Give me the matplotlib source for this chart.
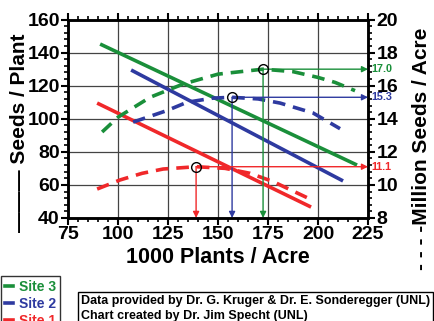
import matplotlib
matplotlib.use("Agg")
import matplotlib.pyplot as plt
from matplotlib.ticker import MultipleLocator
from matplotlib.lines import Line2D

plt.rcParams["font.family"] = ["Liberation Sans", "DejaVu Sans"]
plt.rcParams["font.weight"] = "bold"

# solid lines: seeds / plant (left axis)
sites = ["Site 3", "Site 2", "Site 1"]
colors = ["#1a8f3a", "#2e3aa0", "#f0282a"]
seed_x = [[91, 219.5], [106.5, 212.5], [89.5, 196.5]]
seed_y = [[145.2, 72.0], [129.5, 62.4], [109.5, 46.6]]

# dashed curves: million seeds / acre (right axis)
yield_x = [
    [92, 100, 116, 132.5, 150, 172.5, 187.5, 200, 208.5, 218.5],
    [107.5, 124.5, 134.5, 147.5, 157, 170, 181, 197.5, 211],
    [89.5, 101, 112, 122.5, 139, 153.5, 166, 177.5, 195],
]
yield_y = [
    [13.2, 14.1, 15.3, 16.1, 16.7, 17.0, 16.85, 16.5, 16.2, 15.7],
    [13.8, 14.5, 15.0, 15.25, 15.3, 15.2, 14.95, 14.35, 13.4],
    [9.75, 10.3, 10.7, 10.96, 11.1, 11.0, 10.7, 10.2, 9.2],
]
peak_x = [172.5, 157, 139]
peak_y = [17.0, 15.3, 11.1]
peak_labels = ["17.0", "15.3", "11.1"]

fig = plt.figure(figsize=(4.34, 3.21), dpi=100)
ax = fig.add_axes([0.157, 0.321, 0.691, 0.618])
ax2 = ax.twinx()

for c, xs, ys in zip(colors, seed_x, seed_y):
    ax.plot(xs, ys, color=c, lw=2.6, solid_capstyle="butt", zorder=3)

for c, xs, ys in zip(colors, yield_x, yield_y):
    ax2.plot(xs, ys, color=c, lw=2.6, dashes=(3.5, 2.2), zorder=3)

for c, px, py, lab in zip(colors, peak_x, peak_y, peak_labels):
    ax2.annotate("", xy=(225, py), xytext=(px, py),
                 arrowprops=dict(arrowstyle="-|>", color=c, lw=1.0,
                                 mutation_scale=9, shrinkA=0, shrinkB=0))
    ax2.annotate("", xy=(px, 8), xytext=(px, py),
                 arrowprops=dict(arrowstyle="-|>", color=c, lw=1.0,
                                 mutation_scale=9, shrinkA=0, shrinkB=0))
    ax2.plot(px, py, "o", ms=7, mfc="none", mec="black", mew=1.0, zorder=5)
    ax2.text(226.5, py, lab, color=c, fontsize=7.8, fontweight="bold",
             va="center", ha="left", clip_on=False)

ax.set_xlim(75, 225)
ax.set_ylim(40, 160)
ax2.set_ylim(8, 20)
ax.xaxis.set_major_locator(MultipleLocator(25))
ax.xaxis.set_minor_locator(MultipleLocator(5))
ax.yaxis.set_major_locator(MultipleLocator(20))
ax.yaxis.set_minor_locator(MultipleLocator(4))
ax2.yaxis.set_major_locator(MultipleLocator(2))
ax2.yaxis.set_minor_locator(MultipleLocator(0.4))
ax.grid(True, which="major", color="#444444", lw=0.9)
ax.tick_params(axis="x", which="both", top=True, direction="out")
ax.tick_params(which="major", length=5, width=1.5, labelsize=14, pad=1)
ax.tick_params(which="minor", length=3, width=1.2)
ax2.tick_params(which="major", length=5, width=1.5, labelsize=14, pad=1)
ax2.tick_params(which="minor", length=3, width=1.2)
for a in (ax, ax2):
    for s in a.spines.values():
        s.set_linewidth(1.8)

ax.set_xlabel("1000 Plants / Acre", fontsize=15.5, fontweight="bold", labelpad=3)
fig.text(0.046, 0.585, "\u2014\u2014\u2014 Seeds / Plant", fontsize=15,
         fontweight="bold", rotation=90, ha="center", va="center")
fig.text(0.972, 0.535, "- - - -Million Seeds / Acre", fontsize=15,
         fontweight="bold", rotation=90, ha="center", va="center")

# legend box
handles = [Line2D([0], [0], color=c, lw=2.6) for c in colors]
leg = fig.legend(handles, sites, loc="upper left", bbox_to_anchor=(0.002, 0.140),
                 frameon=True, fancybox=False, edgecolor="black", fontsize=10,
                 handlelength=0.6, handletextpad=0.4, borderpad=0.3,
                 labelspacing=0.2, borderaxespad=0)
leg.get_frame().set_linewidth(1.0)
for t, c in zip(leg.get_texts(), colors):
    t.set_color(c)
    t.set_fontweight("bold")

fig.text(0.187, 0.082,
         "Data provided by Dr. G. Kruger & Dr. E. Sonderegger (UNL)\n"
         "Chart created by Dr. Jim Specht (UNL)",
         fontsize=9, fontweight="bold", va="top", ha="left", linespacing=1.4,
         bbox=dict(boxstyle="square,pad=0.25", fc="white", ec="black", lw=1.0))

fig.savefig("out.png", dpi=100)
